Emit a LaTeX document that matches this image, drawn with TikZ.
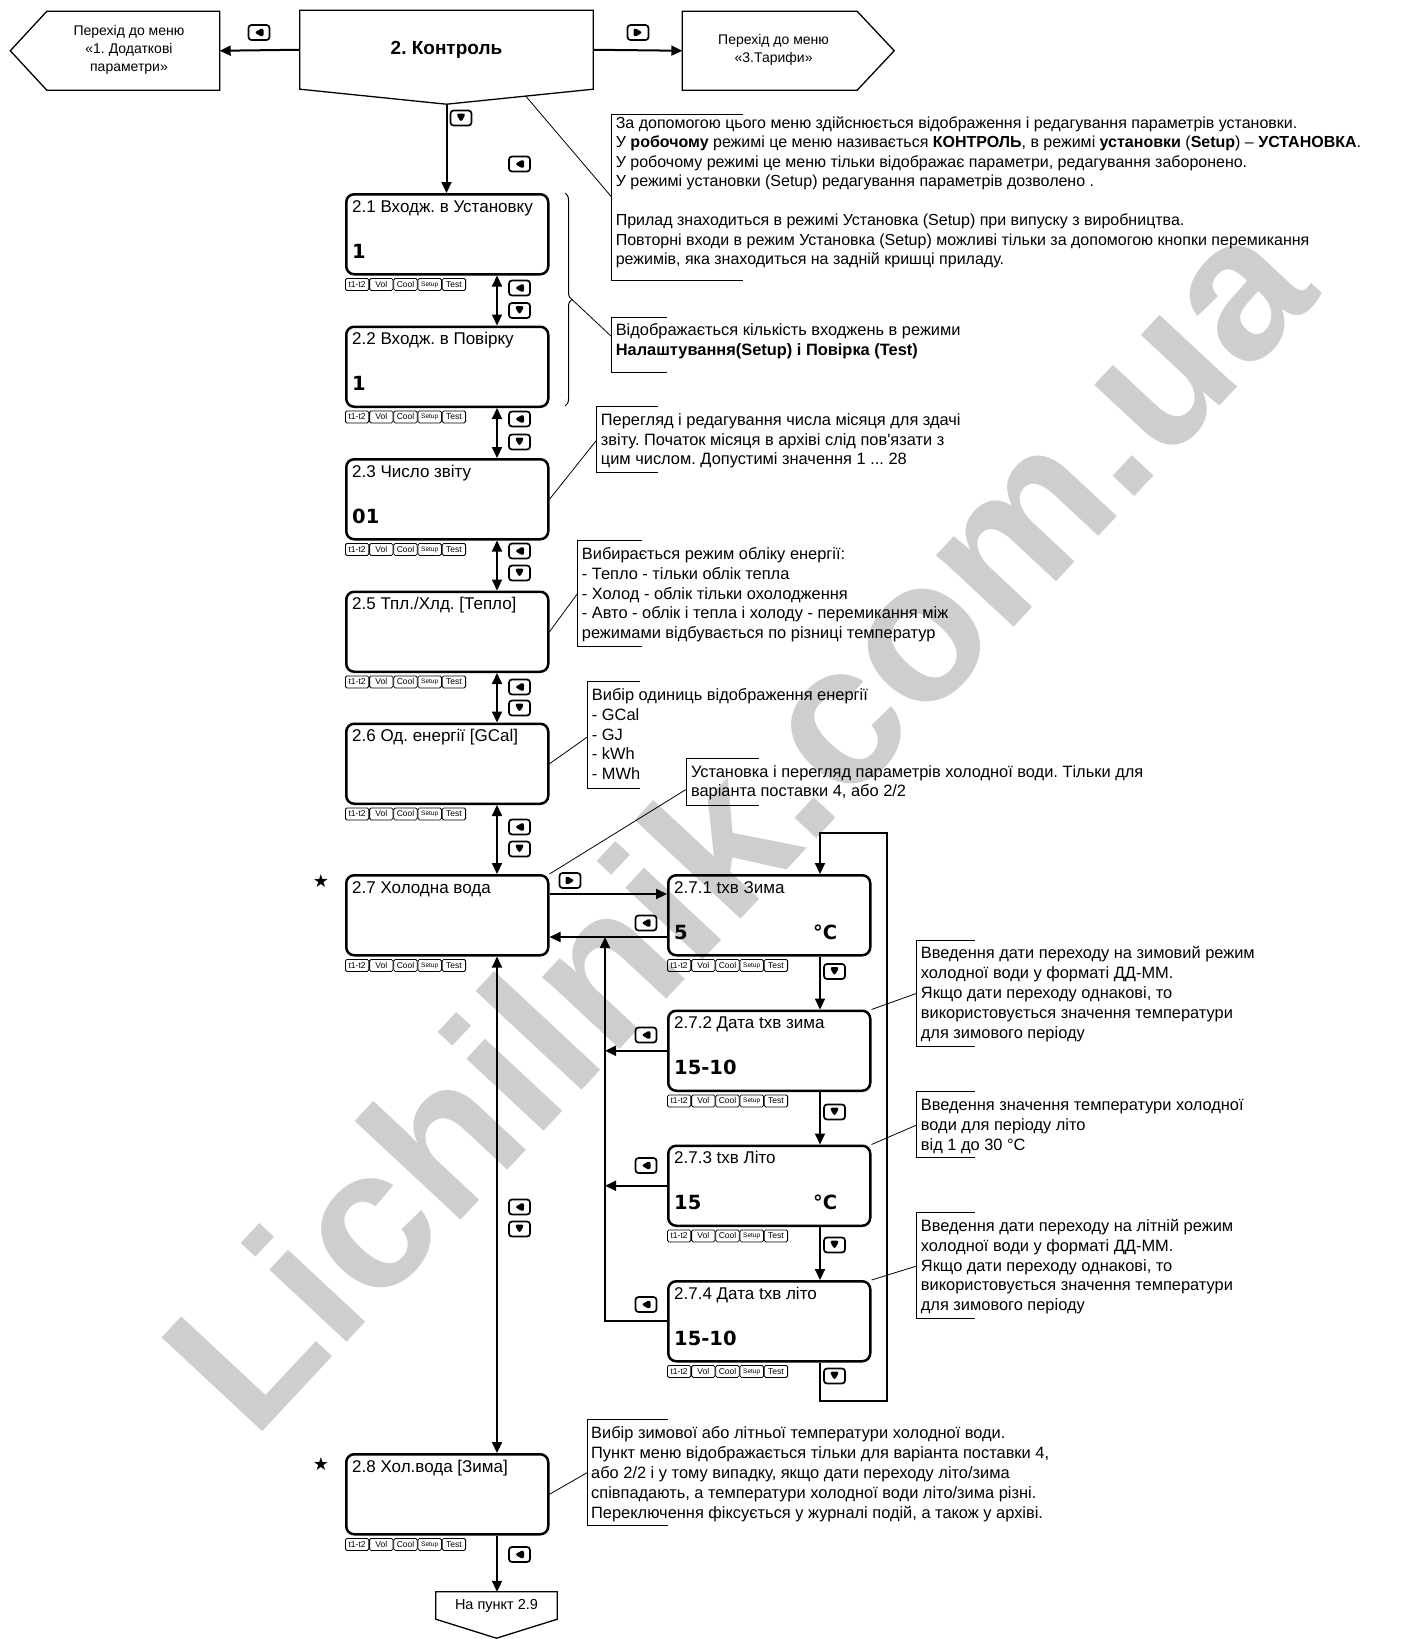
\documentclass[tikz,border=0pt]{standalone}
\usepackage{fontspec}
\setmainfont{Liberation Sans}
\newfontfamily\djv{DejaVu Sans}
\usetikzlibrary{arrows.meta,calc,decorations.pathreplacing}
\definecolor{wmgray}{RGB}{206,206,206}
\frenchspacing

\newcommand\lcd[5]{%
 \node[lcdbox] (#1) at (#2,#3) {};
 \node[lcdtitle] (#1t) at ($(#1.north west)+(7pt,-19pt)$) {#4};
 \node[lcdval] (#1v) at ($(#1.north west)+(7pt,-65pt)$) {#5};
 \node[tab] (#1ta) at ($(#1.south west)+(0pt,-2.5pt)$) {t1-t2};
 \node[tab] (#1tb) at (#1ta.north east) {Vol};
 \node[tab] (#1tc) at (#1tb.north east) {Cool};
 \node[tab,font=\fontsize{6.5}{7}\selectfont] (#1td) at (#1tc.north east) {Setup};
 \node[tab] (#1te) at (#1td.north east) {Test};
}

\begin{document}
\begin{tikzpicture}[x=1pt,y=-1pt,
 lcdbox/.style={draw, line width=2.5pt, rounded corners=8pt, minimum width=202pt, minimum height=80pt, inner sep=0pt, anchor=north west},
 lcdtitle/.style={anchor=base west, inner sep=0pt, font=\fontsize{17}{20}\selectfont},
 lcdval/.style={anchor=base west, inner sep=0pt, font=\djv\bfseries\fontsize{19.5}{22}\selectfont},
 tab/.style={draw, line width=0.8pt, rounded corners=1.5pt, minimum width=23.4pt, minimum height=12pt, inner sep=0pt, anchor=north west, font=\fontsize{8.5}{9}\selectfont},
 conn/.style={line width=2pt},
 arr/.style={conn, -{Triangle[length=11pt,width=10pt]}},
 darr/.style={conn, {Triangle[length=11pt,width=10pt]}-{Triangle[length=11pt,width=10pt]}},
 btn/.style={draw, line width=1.7pt, rounded corners=3pt, minimum width=21pt, minimum height=15pt, inner sep=0pt},
 btnL/.style={btn, path picture={\fill ([xshift=-5pt]path picture bounding box.center) -- ++(9.5pt,5pt) -- ++(0pt,-10pt) -- cycle;}},
 btnR/.style={btn, path picture={\fill ([xshift=5pt]path picture bounding box.center) -- ++(-9.5pt,5pt) -- ++(0pt,-10pt) -- cycle;}},
 btnD/.style={btn, path picture={\fill ([yshift=-4.5pt]path picture bounding box.center) -- ++(-5pt,9pt) -- ++(10pt,0pt) -- cycle;}},
 shp/.style={line width=1.3pt},
 ptxt/.style={align=center, inner sep=0pt, font=\fontsize{14}{18}\selectfont},
 ann/.style={anchor=north west, inner sep=0pt, align=left, font=\fontsize{16.4}{19.8}\selectfont},
 brk/.style={line width=1pt},
 lead/.style={line width=0.8pt},
 starmark/.style={inner sep=0pt, font=\djv\fontsize{18}{18}\selectfont},
 wm/.style={inner sep=0pt, rotate=47, text=wmgray, font=\bfseries\fontsize{200}{200}\selectfont}
]
\useasboundingbox (0,0) rectangle (1405,1639);

% watermark
\node[wm] (wmark) at (736,820) {Lichilnik.com.ua};

% top shapes
\node[minimum width=293pt, minimum height=78.5pt, inner sep=0pt, font=\bfseries\fontsize{19}{22}\selectfont] (ctrl) at (446.5,49.75) {2. Контроль};
\coordinate (ctrltip) at ($(ctrl.south)+(0pt,-15pt)$);
\draw[shp] (ctrl.south west) -- (ctrl.north west) -- (ctrl.north east) -- (ctrl.south east) -- (ctrltip) -- cycle;

\node[minimum width=172.5pt, minimum height=78.5pt, inner sep=0pt] (pl) at (133.25,50.75) {};
\draw[shp] (pl.north east) -- (pl.north west) -- ($(pl.west)+(-36.5pt,0pt)$) -- (pl.south west) -- (pl.south east) -- cycle;
\node[ptxt] (plt) at (129,50) {Перехід до меню\\«1. Додаткові\\параметри»};

\node[minimum width=174.5pt, minimum height=78.5pt, inner sep=0pt] (pr) at (769.75,50.75) {};
\draw[shp] (pr.north west) -- (pr.north east) -- ($(pr.east)+(37pt,0pt)$) -- (pr.south east) -- (pr.south west) -- cycle;
\node[ptxt] (prt) at (773.6,49.5) {Перехід до меню\\«3.Тарифи»};

\draw[arr] (ctrl.west) -- (pl.east);
\draw[arr] (ctrl.east) -- (pr.west);
\node[btnL] (bt1) at (259,32.5) {};
\node[btnR] (bt2) at (638,32.5) {};

% main column boxes
\lcd{b21}{345}{193}{2.1 Входж. в Установку}{1}
\lcd{b22}{345}{325.5}{2.2 Входж. в Повірку}{1}
\lcd{b23}{345}{458}{2.3 Число звіту}{01}
\lcd{b25}{345}{590.5}{2.5 Тпл./Хлд. [Тепло]}{}
\lcd{b26}{345}{722.5}{2.6 Од. енергії [GCal]}{}
\lcd{b27}{345}{874}{2.7 Холодна вода}{}
\lcd{b28}{345}{1453}{2.8 Хол.вода [Зима]}{}

% right column boxes
\lcd{b271}{667}{874}{2.7.1 tхв Зима}{5}
\lcd{b272}{667}{1009.5}{2.7.2 Дата tхв зима}{15-10}
\lcd{b273}{667}{1144.5}{2.7.3 tхв Літо}{15}
\lcd{b274}{667}{1280}{2.7.4 Дата tхв літо}{15-10}
\node[lcdval, anchor=base east] (b271c) at ($(b271.north east)+(-34pt,-65pt)$) {°C};
\node[lcdval, anchor=base east] (b273c) at ($(b273.north east)+(-34pt,-65pt)$) {°C};

\node[starmark] (s27) at (321,881) {★};
\node[starmark] (s28) at (321,1463.6) {★};

% continuation pentagon
\node[minimum width=121pt, minimum height=27pt, inner sep=0pt, font=\fontsize{14.5}{18}\selectfont] (p29) at (496.5,1605.5) {На пункт 2.9};
\coordinate (p29tip) at ($(p29.south)+(0pt,-19pt)$);
\draw[shp] (p29.south west) -- (p29.north west) -- (p29.north east) -- (p29.south east) -- (p29tip) -- cycle;

% main connectors
\coordinate (colx) at (497,0);
\draw[arr] (ctrltip) -- (ctrltip |- b21.north);
\draw[darr] (b21.south -| colx) -- (b22.north -| colx);
\draw[darr] (b22.south -| colx) -- (b23.north -| colx);
\draw[darr] (b23.south -| colx) -- (b25.north -| colx);
\draw[darr] (b25.south -| colx) -- (b26.north -| colx);
\draw[darr] (b26.south -| colx) -- (b27.north -| colx);
\draw[darr] (b27.south -| colx) -- (b28.north -| colx);
\draw[arr] (b28.south -| colx) -- (p29.north -| colx);

% buttons main column
\node[btnD] (bm0d) at (461,118) {};
\node[btnL] (bm0l) at (519.5,164) {};
\node[btnL] (bm1l) at (519.5,288) {};
\node[btnD] (bm1d) at (519.5,310.5) {};
\node[btnL] (bm2l) at (519.5,419) {};
\node[btnD] (bm2d) at (519.5,442) {};
\node[btnL] (bm3l) at (519.5,551) {};
\node[btnD] (bm3d) at (519.5,573) {};
\node[btnL] (bm4l) at (519.5,687) {};
\node[btnD] (bm4d) at (519.5,708) {};
\node[btnL] (bm5l) at (519.5,827) {};
\node[btnD] (bm5d) at (519.5,849) {};
\node[btnL] (bm6l) at (519.5,1207) {};
\node[btnD] (bm6d) at (519.5,1229) {};
\node[btnL] (bm7l) at (519.5,1554.5) {};

% right column connectors
\coordinate (rx) at (820,0);
\coordinate (lb) at (886.5,1401);
\coordinate (lt) at (886.5,833);
\coordinate (h1) at (0,894);
\coordinate (h2) at (0,937);
\coordinate (bus) at (605,0);
\draw[arr] (b271.south -| rx) -- (b272.north -| rx);
\draw[arr] (b272.south -| rx) -- (b273.north -| rx);
\draw[arr] (b273.south -| rx) -- (b274.north -| rx);
\draw[arr] (b274.south -| rx) -- (rx |- lb) -- (lb) -- (lt) -- (rx |- lt) -- (b271.north -| rx);
\draw[arr] (b27.east |- h1) -- (b271.west |- h1);
\draw[arr] (b271.west |- h2) -- (b27.east |- h2);
\draw[arr] (b274.west) -- (bus |- b274.west) -- (bus |- h2);
\draw[arr] (b272.west) -- (bus |- b272.west);
\draw[arr] (b273.west) -- (bus |- b273.west);

\node[btnR] (br0) at (570,880.5) {};
\node[btnL] (br1) at (646,923) {};
\node[btnL] (br2) at (646,1035) {};
\node[btnL] (br3) at (646,1165.5) {};
\node[btnL] (br4) at (646,1304.5) {};
\node[btnD] (br5) at (834.5,971.5) {};
\node[btnD] (br6) at (834.5,1112) {};
\node[btnD] (br7) at (834.5,1245) {};
\node[btnD] (br8) at (834.5,1376) {};

% annotations
% A1
\draw[brk] (743,114.5) -- (611.6,114.5) -- (611.6,280) -- (743,280);
\node[ann, font=\fontsize{16}{19.5}\selectfont] (a1) at (615.6,114.2) {\strut За допомогою цього меню здійснюється відображення і редагування параметрів установки.\\
У \textbf{робочому} режимі це меню називається \textbf{КОНТРОЛЬ}, в режимі \textbf{установки} (\textbf{Setup}) – \textbf{УСТАНОВКА}.\\
У робочому режимі це меню тільки відображає параметри, редагування заборонено.\\
У режимі установки (Setup) редагування параметрів дозволено .\\[19.5pt]
Прилад знаходиться в режимі Установка (Setup) при випуску з виробництва.\\
Повторні входи в режим Установка (Setup) можливі тільки за допомогою кнопки перемикання\\
режимів, яка знаходиться на задній кришці приладу.};
\coordinate (a1s) at ($(ctrl.south east)!0.46!(ctrltip)$);
\coordinate (a1e) at (611.6,197);
\draw[lead] (a1s) -- (a1e);

% A2 with brace
\draw[brk, decorate, decoration={brace, amplitude=7pt}] (565,193) -- (565,406);
\coordinate (brtip) at (572,299.5);
\draw[brk] (667,317) -- (611.6,317) -- (611.6,372) -- (667,372);
\node[ann] (a2) at (615.6,321.5) {\strut Відображається кількість входжень в режими\\
\textbf{Налаштування(Setup) і Повірка (Test)}};
\coordinate (a2e) at (611.6,336.6);
\draw[lead] (brtip) -- (a2e);

% A3
\draw[brk] (658,406.7) -- (596.7,406.7) -- (596.7,472.7) -- (658,472.7);
\node[ann, font=\fontsize{16.4}{19.4}\selectfont] (a3) at (600.7,412.2) {\strut Перегляд і редагування числа місяця для здачі\\
звіту. Початок місяця в архіві слід пов\textquotesingle язати з\\
цим числом. Допустимі значення 1 ... 28};
\coordinate (a3e) at (596.7,440);
\draw[lead] (b23.east) -- (a3e);

% A4
\draw[brk] (641.7,540.7) -- (577.7,540.7) -- (577.7,646.7) -- (641.7,646.7);
\node[ann] (a4) at (581.7,545.5) {\strut Вибирається режим обліку енергії:\\
- Тепло - тільки облік тепла\\
- Холод - облік тільки охолодження\\
- Авто - облік і тепла і холоду - перемикання між\\
режимами відбувається по різниці температур};
\coordinate (a4e) at (577.7,593.3);
\draw[lead] (b25.east) -- (a4e);

% A5
\draw[brk] (640,681.7) -- (587.7,681.7) -- (587.7,788.3) -- (640,788.3);
\node[ann] (a5) at (591.7,686.5) {\strut Вибір одиниць відображення енергії\\
- GCal\\
- GJ\\
- kWh\\
- MWh};
\coordinate (a5e) at (587.7,736.7);
\draw[lead] (b26.east) -- (a5e);

% A6
\draw[brk] (759,758) -- (686.8,758) -- (686.8,805) -- (759,805);
\node[ann] (a6) at (690.8,763) {\strut Установка і перегляд параметрів холодної води. Тільки для\\
варіанта поставки 4, або 2/2};
\coordinate (a6e) at (686.8,789);
\draw[lead] (b27.north east) -- (a6e);

% A7
\draw[brk] (975,940) -- (916.7,940) -- (916.7,1046) -- (975,1046);
\node[ann] (a7) at (920.7,944.8) {\strut Введення дати переходу на зимовий режим\\
холодної води у форматі ДД-ММ.\\
Якщо дати переходу однакові, то\\
використовується значення температури\\
для зимового періоду};
\coordinate (a7e) at (916.7,993.3);
\draw[lead] (b272.north east) -- (a7e);

% A8
\draw[brk] (975,1091.7) -- (916.7,1091.7) -- (916.7,1157.3) -- (975,1157.3);
\node[ann] (a8) at (920.7,1096.5) {\strut Введення значення температури холодної\\
води для періоду літо\\
від 1 до 30 °C};
\coordinate (a8e) at (916.7,1125);
\draw[lead] (b273.north east) -- (a8e);

% A9
\draw[brk] (975,1212.7) -- (916.7,1212.7) -- (916.7,1318.3) -- (975,1318.3);
\node[ann] (a9) at (920.7,1217.5) {\strut Введення дати переходу на літній режим\\
холодної води у форматі ДД-ММ.\\
Якщо дати переходу однакові, то\\
використовується значення температури\\
для зимового періоду};
\coordinate (a9e) at (916.7,1266);
\draw[lead] (b274.north east) -- (a9e);

% A10
\draw[brk] (667.6,1419.3) -- (587,1419.3) -- (587,1525) -- (667.6,1525);
\node[ann] (a10) at (591,1424.8) {\strut Вибір зимової або літньої температури холодної води.\\
Пункт меню відображається тільки для варіанта поставки 4,\\
або 2/2 і у тому випадку, якщо дати переходу літо/зима\\
співпадають, а температури холодної води літо/зима різні.\\
Переключення фіксується у журналі подій, а також у архіві.};
\coordinate (a10e) at (587,1472.7);
\draw[lead] (b28.east) -- (a10e);

\end{tikzpicture}
\end{document}
